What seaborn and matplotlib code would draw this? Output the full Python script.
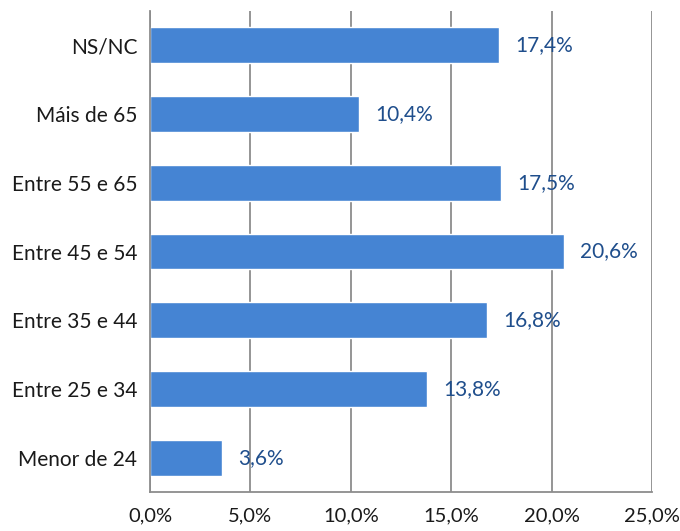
import matplotlib
matplotlib.use("Agg")
import matplotlib.pyplot as plt
import seaborn as sns
import pandas as pd

categories = ["NS/NC", "Máis de 65", "Entre 55 e 65", "Entre 45 e 54",
              "Entre 35 e 44", "Entre 25 e 34", "Menor de 24"]
values = [17.4, 10.4, 17.5, 20.6, 16.8, 13.8, 3.6]
xticks = [0, 5, 10, 15, 20, 25]

sns.set_theme(style="white")
plt.rcParams['font.family'] = ['Lato', 'DejaVu Sans']

df = pd.DataFrame({"cat": categories, "val": values})
fig = plt.figure(figsize=(6.8, 5.31), dpi=100)
ax = fig.add_axes([150/680, 1-492/531, 502/680, 481/531])
sns.barplot(data=df, y="cat", x="val", orient="h", color="#4584D3",
            saturation=1, width=0.52, ax=ax, order=categories)

ax.set_xlim(0, 25)
ax.set_ylim(len(categories)-0.5, -0.5)
ax.set_xticks(xticks)
ax.set_xticklabels([f"{t:.1f}%".replace(".", ",") for t in xticks], fontsize=14.5, color="#1a1a1a")
ax.xaxis.grid(True, color="#8c8c8c", linewidth=1.3)
ax.set_axisbelow(True)
ax.set_xlabel("")
ax.set_ylabel("")
for s in ["top", "right"]:
    ax.spines[s].set_visible(False)
for s in ["left", "bottom"]:
    ax.spines[s].set_color("#8c8c8c")
    ax.spines[s].set_linewidth(1.3)
ax.tick_params(axis="x", length=5, width=1.3, color="#8c8c8c", direction="out", pad=6)
ax.tick_params(axis="y", which="major", length=0, pad=9, labelsize=15, labelcolor="#1a1a1a")
ax.set_yticks([i + 0.5 for i in range(-1, len(categories))], minor=True)
ax.tick_params(axis="y", which="minor", length=5, width=1.3, color="#8c8c8c", direction="out")

for i, v in enumerate(values):
    ax.text(v + 0.8, i, f"{v:.1f}%".replace(".", ","), va="center", ha="left",
            fontsize=15, color="#1F4E8C")

fig.savefig("out.png", dpi=100)
